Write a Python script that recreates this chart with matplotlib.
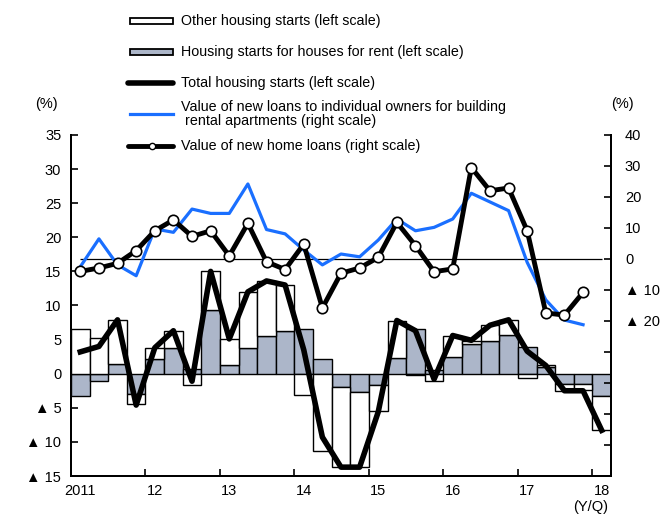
import numpy as np
import matplotlib
matplotlib.use('Agg')
import matplotlib.pyplot as plt
from matplotlib.lines import Line2D
from matplotlib.patches import Rectangle

plt.rcParams['font.family'] = ['Liberation Sans', 'DejaVu Sans']

# quarterly data, 2011Q1 - 2018Q1 (y/y % chg)
year_labels = ['2011', '12', '13', '14', '15', '16', '17', '18']
rent_starts = [-3.3, -1.1, 1.4, -3.0, 2.1, 3.8, 0.7, 9.3, 1.25, 3.8, 5.6, 6.2, 6.5, 2.1,
               -2.0, -2.7, -1.7, 2.3, 6.5, 0.6, 2.4, 4.3, 4.8, 5.7, 3.9, 1.0, -1.45, -1.55, -3.3]
other_starts = [6.5, 5.2, 6.5, -1.5, 1.7, 2.5, -1.7, 5.7, 3.9, 8.2, 8.0, 6.8, -3.1, -11.3,
                -11.7, -11.0, -3.8, 5.5, -0.15, -1.1, 3.2, 0.5, 2.3, 2.2, -0.7, 0.25, -1.05, -0.8, -4.9]
total_starts = [3.2, 4.0, 7.9, -4.6, 3.8, 6.3, -1.1, 15.0, 5.1, 12.0, 13.6, 13.0, 3.5, -9.3,
                -13.7, -13.7, -5.6, 7.8, 6.3, -0.8, 5.6, 4.9, 7.1, 7.9, 3.3, 1.2, -2.5, -2.5, -8.3]
# right scale, 2011Q1 - 2017Q4
rental_apt_loans = [-2.5, 6.5, -1.9, -5.4, 9.7, 8.6, 16.1, 14.7, 14.7, 24.2, 9.5, 8.1, 2.9, -1.9,
                    1.6, 0.7, 6.1, 12.9, 9.1, 10.2, 12.9, 21.2, 18.4, 15.6, -1.1, -13.2, -19.7, -21.2]
home_loans = [-4.0, -2.9, -1.4, 2.7, 9.1, 12.6, 7.3, 9.1, 1.0, 11.5, -0.9, -3.4, 4.8, -15.8,
              -4.6, -2.9, 0.5, 11.8, 4.3, -4.1, -3.2, 29.5, 22.0, 22.9, 9.1, -17.4, -18.1, -10.8]

gray = '#acb6c9'
blue = '#1a6fff'
W, H = 666, 514

fig = plt.figure(figsize=(W / 100, H / 100), dpi=100)
ax = fig.add_axes([0.1066, 0.0739, 0.8108, 0.6635])
ax2 = ax.twinx()

x = np.arange(len(total_starts)) + 0.5
rent = np.array(rent_starts)
other = np.array(other_starts)
base = np.where(np.sign(rent) == np.sign(other), rent, 0)

ax.bar(x, rent, width=1.0, color=gray, edgecolor='black', linewidth=1.0, zorder=2)
ax.bar(x, other, width=1.0, bottom=base, color='white', edgecolor='black', linewidth=1.0, zorder=2)
ax.plot(x, total_starts, color='black', lw=4, solid_joinstyle='round', zorder=3)

xl = np.arange(len(home_loans)) + 0.5
ax2.hlines(0, x[0], x[-1], color='black', lw=0.9, zorder=1)
ax2.plot(xl, rental_apt_loans, color=blue, lw=2.3, zorder=2)
ax2.plot(xl, home_loans, color='black', lw=3.5, marker='o', ms=7.5, mfc='white', mec='black',
         mew=1.2, zorder=3)

ax.set_xlim(0, len(total_starts))
ax.set_ylim(-15, 35)
ax2.set_ylim(-70, 40)

for a in (ax, ax2):
    a.spines['top'].set_visible(False)
    for s in ['left', 'right', 'bottom']:
        a.spines[s].set_linewidth(1.4)

lt = np.arange(-15, 36, 5)
ax.set_yticks(lt)
ax.set_yticklabels([str(v) if v >= 0 else '▲ ' + str(-v) for v in lt])
rt = np.arange(-70, 41, 10)
ax2.set_yticks(rt)
ax2.set_yticklabels([str(v) if v >= 0 else ('▲ ' + str(-v) if v >= -20 else '') for v in rt])

ax.set_xticks(np.arange(4, 29, 4))
ax.set_xticklabels([])
ax.set_xticks(np.arange(0, 29, 4) + 0.5, minor=True)
ax.set_xticklabels(year_labels, minor=True)
ax.tick_params(axis='x', which='major', direction='in', length=5, width=1.2)
ax.tick_params(axis='x', which='minor', length=0, pad=6, labelsize=10.5)
ax.tick_params(axis='y', direction='in', length=5, width=1.2, pad=7, labelsize=10.5)
ax2.tick_params(axis='y', direction='in', length=5, width=1.2, pad=10, labelsize=10.5)

fig.text(0.053, 0.797, '(%)', fontsize=10.5, va='center')
fig.text(0.917, 0.797, '(%)', fontsize=10.5, va='center')
fig.text(0.913, 0.0, '(Y/Q)', fontsize=10.5, ha='right', va='bottom')


# legend, drawn by hand at pixel positions
def fx(px):
    return px / W


def fy(py):
    return 1 - py / H


hx0, hx1, tx = 130, 173, 181
legend_rows = [
    ('rect', 'white', 21.3, 'Other housing starts (left scale)'),
    ('rect', gray, 52.2, 'Housing starts for houses for rent (left scale)'),
    ('line', 'black', 82.7, 'Total housing starts (left scale)'),
    ('blue', blue, 114.3, 'Value of new loans to individual owners for building\n rental apartments (right scale)'),
    ('mark', 'black', 145.7, 'Value of new home loans (right scale)'),
]
for kind, col, py, label in legend_rows:
    if kind == 'rect':
        fig.add_artist(Rectangle((fx(hx0), fy(py + 3)), fx(hx1) - fx(hx0), fy(py - 3) - fy(py + 3),
                                 transform=fig.transFigure, facecolor=col, edgecolor='black', lw=1.3))
    elif kind == 'line':
        fig.add_artist(Line2D([fx(hx0 - 2), fx(hx1)], [fy(py), fy(py)], transform=fig.transFigure,
                              color=col, lw=4, solid_capstyle='round'))
    elif kind == 'blue':
        fig.add_artist(Line2D([fx(hx0), fx(hx1)], [fy(py), fy(py)], transform=fig.transFigure,
                              color=col, lw=2.3))
    else:
        fig.add_artist(Line2D([fx(hx0 - 2), fx(hx1)], [fy(py), fy(py)], transform=fig.transFigure,
                              color=col, lw=3.5, solid_capstyle='round'))
        fig.add_artist(Line2D([fx((hx0 + hx1) / 2)], [fy(py)], transform=fig.transFigure,
                              marker='o', ms=4.5, mfc='white', mec='black', mew=1, lw=0))
    fig.text(fx(tx), fy(py), label, fontsize=10.3, va='center', ha='left', linespacing=1.0)

fig.savefig('out.png', dpi=100)
